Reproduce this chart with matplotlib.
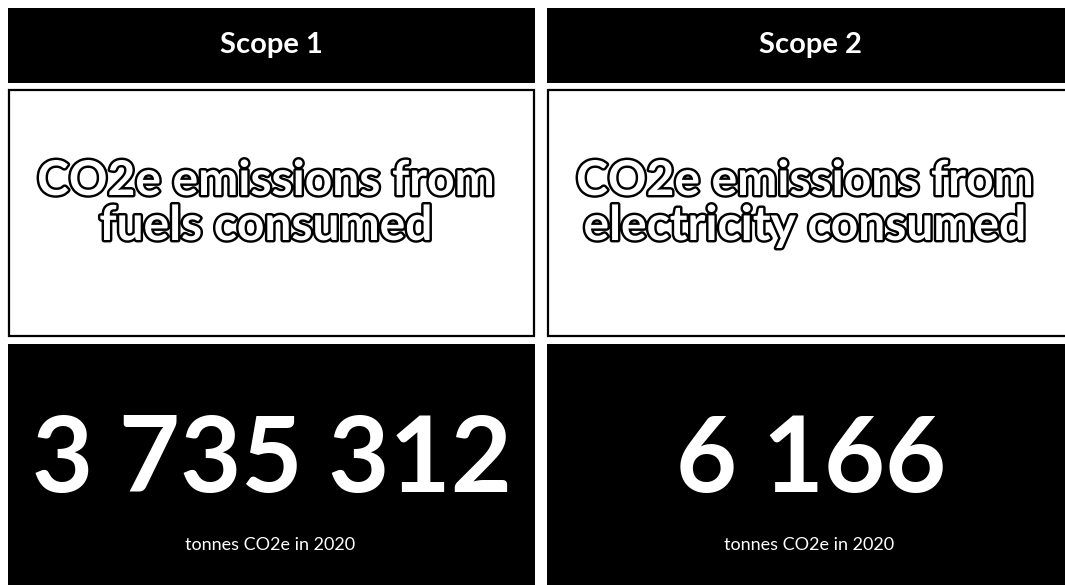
import matplotlib
matplotlib.use("Agg")
import matplotlib.pyplot as plt
from matplotlib.patches import Rectangle
import matplotlib.patheffects as pe

# ---- data ----
scopes = ["Scope 1", "Scope 2"]
descriptions = ["CO2e emissions from\nfuels consumed",
                "CO2e emissions from\nelectricity consumed"]
values = [3735312, 6166]
unit_labels = ["tonnes CO2e in 2020", "tonnes CO2e in 2020"]

def fmt(v):
    return f"{v:,}".replace(",", " ")

W, H = 1065, 585
fig = plt.figure(figsize=(W / 100, H / 100), dpi=100)
ax = fig.add_axes([0, 0, 1, 1])
ax.set_xlim(0, W)
ax.set_ylim(H, 0)
ax.axis("off")

col_x = [8, 547]
col_w = 527
FONT = "Lato"
desc_baselines = [195, 240]

for i, x0 in enumerate(col_x):
    cx = x0 + col_w / 2
    # header
    ax.add_patch(Rectangle((x0, 8), col_w, 75, facecolor="black", edgecolor="none"))
    ax.text(cx, 53, scopes[i], color="white", fontsize=21, fontweight="bold",
            family=FONT, ha="center", va="baseline")
    # white box
    ax.add_patch(Rectangle((x0 + 1, 90), col_w - 2, 246, facecolor="white",
                           edgecolor="black", linewidth=1.6))
    for line, yb in zip(descriptions[i].split("\n"), desc_baselines):
        t = ax.text(cx - 6, yb, line, color="white", fontsize=34.5,
                    fontweight="bold", family=FONT, ha="center", va="baseline")
        t.set_path_effects([pe.withStroke(linewidth=3.5, foreground="black")])
    # value box
    ax.add_patch(Rectangle((x0, 344), col_w, H - 344, facecolor="black", edgecolor="none"))
    ax.text(cx + 1, 492, fmt(values[i]), color="white", fontsize=76,
            fontweight="bold", family=FONT, ha="center", va="baseline")
    ax.text(cx - 1, 550, unit_labels[i], color="white", fontsize=13,
            family=FONT, ha="center", va="baseline")

fig.savefig("out.png", dpi=100, facecolor="white")
